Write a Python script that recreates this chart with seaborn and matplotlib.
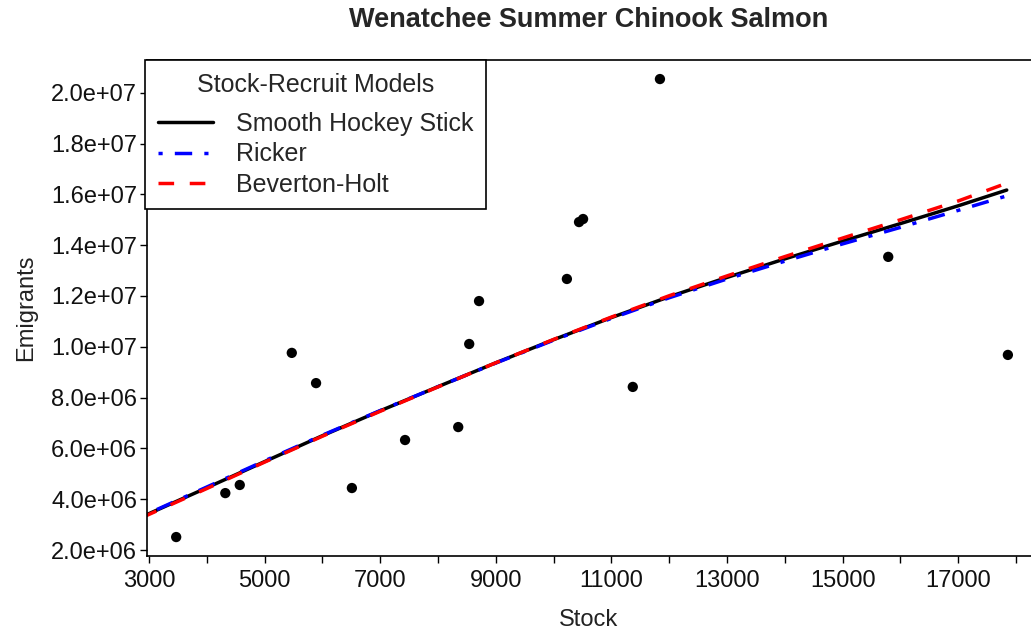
import numpy as np
import pandas as pd
import seaborn as sns
import matplotlib.pyplot as plt
from matplotlib.ticker import MultipleLocator, FuncFormatter

# observed stock / emigrant pairs
stock = [3470, 4320, 4570, 5470, 5890, 6510, 7430, 8350, 8540, 8710,
         10230, 10440, 10510, 11370, 11840, 15790, 17860]
emigrants = [2.51e6, 4.24e6, 4.56e6, 9.76e6, 8.57e6, 4.44e6, 6.33e6, 6.84e6, 10.11e6, 11.8e6,
             12.67e6, 14.91e6, 15.03e6, 8.42e6, 20.54e6, 13.54e6, 9.68e6]

# fitted curves
curve_stock = [2880, 4000, 5000, 6000, 7000, 8000, 9000, 10000, 11000,
               12000, 13000, 14000, 15000, 16000, 17000, 17840]
hockey = [3.31e6, 4.45e6, 5.48e6, 6.50e6, 7.48e6, 8.43e6, 9.37e6, 10.28e6, 11.15e6,
          11.97e6, 12.73e6, 13.46e6, 14.16e6, 14.85e6, 15.55e6, 16.17e6]
ricker = [3.33e6, 4.48e6, 5.51e6, 6.52e6, 7.49e6, 8.43e6, 9.36e6, 10.26e6, 11.12e6,
          11.93e6, 12.67e6, 13.37e6, 14.05e6, 14.70e6, 15.37e6, 15.94e6]
bevholt = [3.28e6, 4.42e6, 5.46e6, 6.48e6, 7.46e6, 8.42e6, 9.37e6, 10.29e6, 11.17e6,
           12.01e6, 12.79e6, 13.55e6, 14.28e6, 15.00e6, 15.74e6, 16.44e6]

models = ["Smooth Hockey Stick", "Ricker", "Beverton-Holt"]

sns.set_style("ticks")
plt.rcParams['font.family'] = ['Liberation Sans', 'DejaVu Sans']

fig = plt.figure(figsize=(10.31, 6.32), dpi=100)
ax = fig.add_axes([147 / 1031, 76 / 632, 884 / 1031, 496 / 632])

lw = 2.5
sns.lineplot(x=curve_stock, y=hockey, ax=ax, color="black", lw=lw, label=models[0], sort=False)
sns.lineplot(x=curve_stock, y=ricker, ax=ax, color="blue", lw=lw, label=models[1], sort=False,
             linestyle=(0, (1.2, 3.5, 5, 3.5)))
sns.lineplot(x=curve_stock, y=bevholt, ax=ax, color="red", lw=lw, label=models[2], sort=False,
             linestyle=(0, (4.5, 4.5)))
sns.scatterplot(x=stock, y=emigrants, ax=ax, color="black", s=55, edgecolor="none", zorder=5)

ax.set_xlim(2965, 18260)
ax.set_ylim(1.764e6, 21.29e6)

ax.xaxis.set_major_locator(MultipleLocator(2000, offset=1000))
ax.xaxis.set_minor_locator(MultipleLocator(2000))
ax.yaxis.set_major_locator(MultipleLocator(2e6))
ax.yaxis.set_major_formatter(FuncFormatter(lambda v, p: f"{v:.1e}"))
ax.tick_params(axis="both", which="both", length=5, width=1, color="black",
               labelsize=17, labelcolor="#111111")
ax.tick_params(axis="x", which="both", pad=5)
ax.tick_params(axis="y", which="both", pad=2)

for side in ["left", "bottom", "top"]:
    ax.spines[side].set_color("black")
    ax.spines[side].set_linewidth(1.2)
ax.spines["right"].set_visible(False)

ax.set_xlabel("Stock", fontsize=17, color="#222222", labelpad=12)
ax.set_ylabel("Emigrants", fontsize=17, color="#222222", labelpad=10)

fig.text(589 / 1031, 1 - 20 / 632, "Wenatchee Summer Chinook Salmon",
         ha="center", va="center", fontsize=19.5, fontweight="bold")

leg = ax.legend(title="Stock-Recruit Models", loc="upper left", bbox_to_anchor=(-0.002, 1.0),
                borderaxespad=0, fontsize=18, title_fontsize=18, frameon=True,
                fancybox=False, framealpha=1, edgecolor="black", handlelength=2.2,
                handletextpad=0.95, labelspacing=0.26, borderpad=0.5)
leg.get_frame().set_linewidth(1.2)
# extra room between the legend title and its entries
leg._legend_box.sep = 11

fig.savefig("out.png", dpi=100)
